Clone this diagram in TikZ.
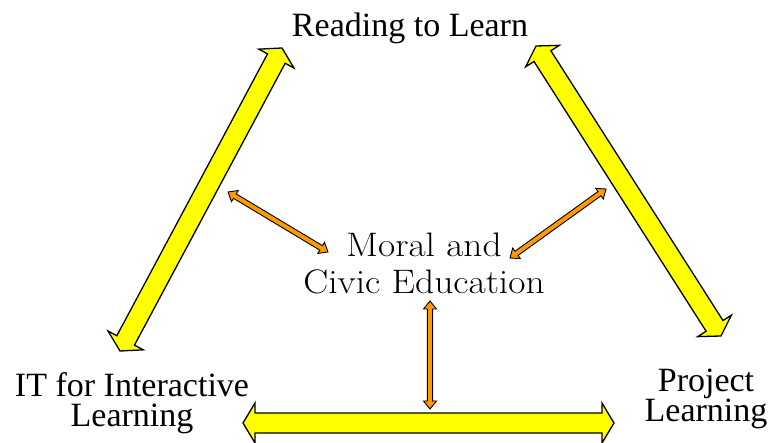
\documentclass[tikz,border=0pt]{standalone}
\usepackage{fontspec}
\usetikzlibrary{calc}
\newfontfamily\timesfont{Liberation Serif}
\definecolor{arrowyellow}{HTML}{FFFF00}
\definecolor{arroworange}{HTML}{FF9900}
\tikzset{
  blockarrow/.style n args={3}{to path={
    -- ($(\tikztostart)!#1!(\tikztotarget)!#3!90:(\tikztotarget)$)
    -- ($(\tikztostart)!#1!(\tikztotarget)!#2!90:(\tikztotarget)$)
    -- ($(\tikztotarget)!#1!(\tikztostart)!#2!270:(\tikztostart)$)
    -- ($(\tikztotarget)!#1!(\tikztostart)!#3!270:(\tikztostart)$)
    -- (\tikztotarget)
    -- ($(\tikztotarget)!#1!(\tikztostart)!#3!90:(\tikztostart)$)
    -- ($(\tikztotarget)!#1!(\tikztostart)!#2!90:(\tikztostart)$)
    -- ($(\tikztostart)!#1!(\tikztotarget)!#2!270:(\tikztotarget)$)
    -- ($(\tikztostart)!#1!(\tikztotarget)!#3!270:(\tikztotarget)$)
    -- cycle}},
  bigarrow/.style={draw=black, line width=1.3pt, line join=miter, fill=arrowyellow, blockarrow={12pt}{10pt}{20pt}},
  smallarrow/.style={draw=black, line width=0.9pt, line join=miter, fill=arroworange, blockarrow={8pt}{2.6pt}{6.5pt}},
  toplabel/.style={inner sep=0pt, font=\timesfont\fontsize{34}{30}\selectfont},
  cornerlabel/.style={inner sep=0pt, align=center, font=\timesfont\fontsize{34}{30}\selectfont},
  centrelabel/.style={inner sep=0pt, align=center, font=\fontsize{34}{37}\selectfont}
}
\begin{document}
\begin{tikzpicture}[x=1pt, y=-1pt]
  \useasboundingbox (0,0) rectangle (771,443);
  % labels (base anchor = baseline of the last line)
  \node[toplabel, anchor=base] (read) at (410,37) {Reading to Learn};
  \node[centrelabel, anchor=base] (moral) at (424,294) {\scalebox{1.1}[1]{Moral and}\\\scalebox{1.1}[1]{Civic Education}};
  \node[cornerlabel, anchor=base] (it) at (132,426) {IT for Interactive\\Learning};
  \node[cornerlabel, anchor=base] (proj) at (706,421) {Project\\Learning};
  % arrow end points
  \coordinate (lA) at (120,351);
  \coordinate (lB) at (282,48);
  \coordinate (rA) at (536,46);
  \coordinate (rB) at (721,336);
  \coordinate (bA) at (243,423);
  \coordinate (bB) at (614,423);
  \coordinate (oLa) at (228,192);
  \coordinate (oLb) at (328,252);
  \coordinate (oRa) at (606,189);
  \coordinate (oRb) at (510,258);
  \coordinate (oVa) at (430,301);
  \coordinate (oVb) at (430,409);
  % big arrows
  \draw[bigarrow] (lA) to (lB);
  \draw[bigarrow] (rA) to (rB);
  \draw[bigarrow] (bA) to (bB);
  % small arrows
  \draw[smallarrow] (oLa) to (oLb);
  \draw[smallarrow] (oRa) to (oRb);
  \draw[smallarrow] (oVa) to (oVb);
\end{tikzpicture}
\end{document}
